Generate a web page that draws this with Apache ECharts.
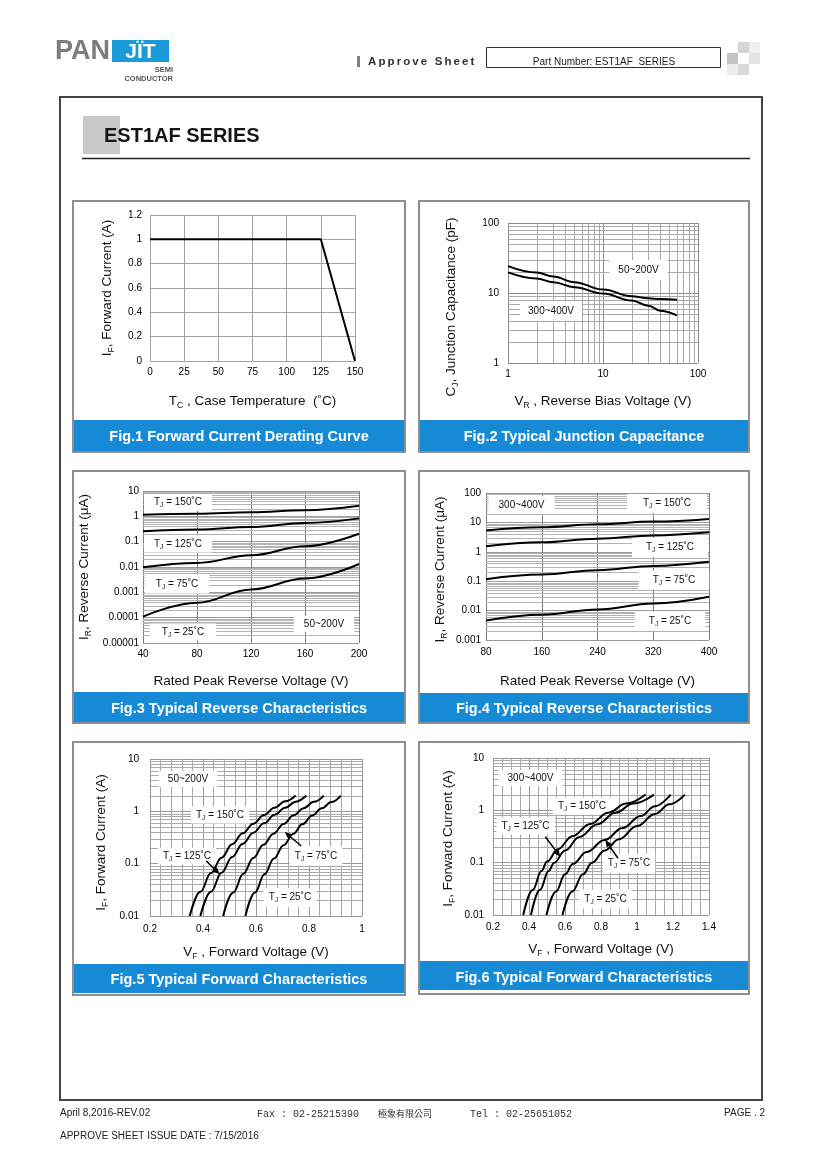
<!DOCTYPE html>
<html>
<head>
<meta charset="utf-8">
<script src="https://cdn.jsdelivr.net/npm/echarts@6/dist/echarts.min.js"></script>
<style>
html,body{margin:0;padding:0;background:#ffffff;}
#chart{width:820px;height:1160px;}
</style>
</head>
<body>
<div id="chart"></div>
<script>
// ================= DATA =================
// Fig.1 Forward Current Derating Curve
const fig1CaseTemp = [0, 125, 150];
const fig1Current = [1, 1, 0];
const fig1XTicks = ['0', '25', '50', '75', '100', '125', '150'];
const fig1YTicks = ['0', '0.2', '0.4', '0.6', '0.8', '1', '1.2'];

// Fig.2 Typical Junction Capacitance
const fig2Voltage = [1, 2, 3, 5, 10, 20, 30, 40, 60];
const fig2Cap50to200 = [24.2, 19.6, 17.2, 14.3, 11.2, 9.0, 8.4, 8.2, 8.0];
const fig2Cap300to400 = [19.7, 16.1, 14.3, 12.1, 9.8, 7.8, 6.6, 5.6, 4.8];
const fig2XTicks = ['1', '10', '100'];
const fig2YTicks = ['1', '10', '100'];

// Fig.3 Typical Reverse Characteristics (50~200V)
const fig3Voltage = [40, 80, 120, 160, 200];
const fig3Ir150 = [1.15, 1.27, 1.44, 1.73, 2.6];
const fig3Ir125 = [0.26, 0.30, 0.38, 0.55, 0.83];
const fig3Ir75 = [0.0098, 0.0145, 0.029, 0.066, 0.205];
const fig3Ir25 = [0.00011, 0.00039, 0.0013, 0.0035, 0.0131];
const fig3XTicks = ['40', '80', '120', '160', '200'];
const fig3YTicks = ['0.00001', '0.0001', '0.001', '0.01', '0.1', '1', '10'];

// Fig.4 Typical Reverse Characteristics (300~400V)
const fig4Voltage = [80, 160, 240, 320, 400];
const fig4Ir150 = [5.3, 6.8, 8.6, 10.7, 13.1];
const fig4Ir125 = [1.55, 2.1, 2.8, 3.6, 4.6];
const fig4Ir75 = [0.117, 0.168, 0.238, 0.33, 0.457];
const fig4Ir25 = [0.0046, 0.0072, 0.011, 0.0175, 0.0295];
const fig4XTicks = ['80', '160', '240', '320', '400'];
const fig4YTicks = ['0.001', '0.01', '0.1', '1', '10', '100'];

// Fig.5 Typical Forward Characteristics (50~200V)
const fig5Vf150 = [0.35, 0.39, 0.43, 0.47, 0.51, 0.55, 0.59, 0.63, 0.67, 0.71, 0.75];
const fig5If150 = [0.01, 0.029, 0.066, 0.13, 0.235, 0.38, 0.58, 0.85, 1.17, 1.55, 2.0];
const fig5Vf125 = [0.39, 0.43, 0.47, 0.51, 0.55, 0.59, 0.63, 0.67, 0.71, 0.75, 0.79];
const fig5If125 = [0.01, 0.029, 0.067, 0.134, 0.24, 0.39, 0.59, 0.86, 1.17, 1.53, 2.0];
const fig5Vf75 = [0.476, 0.514, 0.552, 0.59, 0.628, 0.666, 0.704, 0.742, 0.78, 0.818, 0.856];
const fig5If75 = [0.01, 0.028, 0.064, 0.128, 0.23, 0.375, 0.575, 0.84, 1.15, 1.52, 2.0];
const fig5Vf25 = [0.56, 0.596, 0.632, 0.668, 0.704, 0.74, 0.776, 0.812, 0.848, 0.884, 0.92];
const fig5If25 = [0.01, 0.028, 0.063, 0.125, 0.225, 0.37, 0.57, 0.83, 1.14, 1.5, 2.0];
const fig5XTicks = ['0.2', '0.4', '0.6', '0.8', '1'];
const fig5YTicks = ['0.01', '0.1', '1', '10'];

// Fig.6 Typical Forward Characteristics (300~400V)
const fig6Vf150 = [0.368, 0.42, 0.47, 0.50, 0.56, 0.64, 0.74, 0.84, 0.94, 1.048];
const fig6If150 = [0.01, 0.03, 0.07, 0.105, 0.18, 0.32, 0.55, 0.9, 1.35, 2.0];
const fig6Vf125 = [0.411, 0.46, 0.51, 0.54, 0.60, 0.68, 0.78, 0.88, 0.98, 1.094];
const fig6If125 = [0.01, 0.03, 0.07, 0.1, 0.17, 0.31, 0.54, 0.9, 1.35, 2.0];
const fig6Vf75 = [0.497, 0.55, 0.60, 0.645, 0.72, 0.82, 0.92, 1.02, 1.10, 1.187];
const fig6If75 = [0.01, 0.028, 0.06, 0.095, 0.16, 0.27, 0.46, 0.78, 1.2, 2.0];
const fig6Vf25 = [0.586, 0.64, 0.70, 0.75, 0.82, 0.90, 1.00, 1.10, 1.18, 1.266];
const fig6If25 = [0.01, 0.028, 0.06, 0.1, 0.17, 0.28, 0.5, 0.85, 1.3, 2.0];
const fig6XTicks = ['0.2', '0.4', '0.6', '0.8', '1', '1.2', '1.4'];
const fig6YTicks = ['0.01', '0.1', '1', '10'];

const tempLabels = ['150', '125', '75', '25'];

// ================= HELPERS =================
const FONT = '"Liberation Sans", Arial, Helvetica, sans-serif';
const MONO = '"Liberation Mono", "DejaVu Sans Mono", monospace';
const CJK = '"Noto Sans CJK TC", "Noto Sans CJK SC", sans-serif';

const zip = (a, b) => a.map((v, i) => [v, b[i]]);
const linFmt = ticks => (v, i) => (ticks[i] !== undefined ? ticks[i] : '');
const logFmt = (ticks, minExp) => v => {
  const k = Math.round(Math.log10(v)) - minExp;
  return ticks[k] !== undefined ? ticks[k] : '';
};
const logMinors = (minExp, maxExp) => {
  const out = [];
  for (let e = minExp; e < maxExp; e++) for (let m = 2; m <= 9; m++) out.push(m * Math.pow(10, e));
  return out;
};

const tickStyle = { fontFamily: FONT, fontSize: 10, color: '#000' };
function nameStyle(pad) {
  return {
    fontFamily: FONT, fontSize: 13.5, color: '#111', padding: pad || 0,
    rich: {
      m: { fontFamily: FONT, fontSize: 13.5, color: '#111', lineHeight: 18 },
      s: { fontFamily: FONT, fontSize: 8.5, color: '#111', lineHeight: 9, verticalAlign: 'bottom' }
    }
  };
}

function axis(o) {
  const a = {
    gridIndex: o.g, type: o.type, min: o.min, max: o.max, z: 0,
    axisLine: { show: false }, axisTick: { show: false },
    splitLine: { show: true, showMinLine: true, showMaxLine: true, lineStyle: { color: o.split || '#999', width: 1 } },
    axisLabel: Object.assign({}, tickStyle, { margin: o.margin, formatter: o.fmt }),
    name: o.name, nameLocation: 'middle', nameGap: o.gap, nameTextStyle: nameStyle(o.pad),
    nameMoveOverlap: false
  };
  if (o.type === 'log') a.logBase = 10;
  if (o.interval !== undefined) a.interval = o.interval;
  if (o.rotate) a.nameRotate = 90;
  if (o.minor) {
    a.minorTick = { show: false, splitNumber: o.minor };
    a.minorSplitLine = { show: true, lineStyle: { color: o.minorColor || '#aaa', width: 1 } };
  }
  return a;
}

function minorGrid(gi, xr, yr, xVals, yVals, color) {
  const data = [];
  xVals.forEach(v => data.push([v, yr[0], 1]));
  yVals.forEach(v => data.push([xr[0], v, 0]));
  return {
    type: 'custom', xAxisIndex: gi, yAxisIndex: gi, silent: true, z: 0, clip: false,
    encode: { x: 0, y: 1 }, data,
    renderItem(params, api) {
      const vert = api.value(2) === 1;
      let p1, p2;
      if (vert) { p1 = api.coord([api.value(0), yr[0]]); p2 = api.coord([api.value(0), yr[1]]); }
      else { p1 = api.coord([xr[0], api.value(1)]); p2 = api.coord([xr[1], api.value(1)]); }
      if (vert) { const x = Math.round(p1[0]) + 0.5; p1[0] = x; p2[0] = x; }
      else { const y = Math.round(p1[1]) + 0.5; p1[1] = y; p2[1] = y; }
      return { type: 'line', shape: { x1: p1[0], y1: p1[1], x2: p2[0], y2: p2[1] }, style: { stroke: color, lineWidth: 1 } };
    }
  };
}

function curve(gi, xs, ys, smooth) {
  return {
    type: 'line', xAxisIndex: gi, yAxisIndex: gi, data: zip(xs, ys),
    symbol: 'none', showSymbol: false, smooth: smooth ? 0.4 : false, smoothMonotone: 'x',
    lineStyle: { color: '#000', width: 2 }, z: 10, zlevel: 1, silent: true
  };
}

function boxLabel(text, x, y, pad) {
  return {
    type: 'text', x, y, z: 100, silent: true,
    style: {
      text, align: 'center', verticalAlign: 'middle',
      fontFamily: FONT, fontSize: 10, fill: '#111',
      backgroundColor: '#fff', padding: pad,
      rich: {
        t: { fontFamily: FONT, fontSize: 10, fill: '#111', lineHeight: 13 },
        s: { fontFamily: FONT, fontSize: 6.5, fill: '#111', lineHeight: 6, verticalAlign: 'bottom' }
      }
    }
  };
}
const tj = t => `{t|T}{s|J}{t| = ${t}˚C}`;

function arrow(x1, y1, x2, y2) {
  const ang = Math.atan2(y2 - y1, x2 - x1), L = 7, W = 3;
  const bx = x2 - L * Math.cos(ang), by = y2 - L * Math.sin(ang);
  const px = -Math.sin(ang) * W, py = Math.cos(ang) * W;
  return [
    { type: 'line', z: 100, silent: true, shape: { x1, y1, x2: bx, y2: by }, style: { stroke: '#000', lineWidth: 1.5 } },
    { type: 'polygon', z: 100, silent: true, shape: { points: [[x2, y2], [bx + px, by + py], [bx - px, by - py]] }, style: { fill: '#000' } }
  ];
}

function txt(text, x, y, o) {
  return {
    type: 'text', x, y, z: o.z || 10, silent: true,
    style: Object.assign({ text, fontFamily: FONT, fontSize: 10, fill: '#111', align: 'left', verticalAlign: 'middle' }, o.style || {})
  };
}

function spacedText(str, x, y, size, weight, spacing, fill) {
  const ctx = document.createElement('canvas').getContext('2d');
  ctx.font = `${weight} ${size}px ${FONT}`;
  const els = [];
  let cx = x;
  for (const ch of str) {
    if (ch !== ' ') els.push(txt(ch, cx, y, { style: { fontSize: size, fontWeight: weight, fill } }));
    cx += ctx.measureText(ch).width + spacing;
  }
  return els;
}

// ================= LAYOUT =================
const grids = [
  { left: 150, top: 215, width: 205, height: 146 },
  { left: 508, top: 223, width: 190, height: 140 },
  { left: 143, top: 491, width: 216, height: 152 },
  { left: 486, top: 493, width: 223, height: 147 },
  { left: 150, top: 759, width: 212, height: 157 },
  { left: 493, top: 758, width: 216, height: 157 }
].map(g => Object.assign({ outerBoundsMode: 'none', containLabel: false, show: false }, g));

const xAxes = [
  axis({ g: 0, type: 'value', min: 0, max: 150, interval: 25, split: '#a3a3a3', margin: 6, fmt: linFmt(fig1XTicks),
    name: '{m|T}{s|C}{m| , Case Temperature  (˚C)}', gap: 31 }),
  axis({ g: 1, type: 'log', min: 1, max: 100, split: '#8a8a8a', margin: 6, fmt: logFmt(fig2XTicks, 0),
    name: '{m|V}{s|R}{m| , Reverse Bias Voltage (V)}', gap: 29 }),
  axis({ g: 2, type: 'value', min: 40, max: 200, interval: 40, split: '#7c7c7c', margin: 6, fmt: linFmt(fig3XTicks),
    name: '{m|Rated Peak Reverse Voltage (V)}', gap: 29 }),
  axis({ g: 3, type: 'value', min: 80, max: 400, interval: 80, split: '#7c7c7c', margin: 7, fmt: linFmt(fig4XTicks),
    name: '{m|Rated Peak Reverse Voltage (V)}', gap: 32 }),
  axis({ g: 4, type: 'value', min: 0.2, max: 1, interval: 0.2, split: '#999', margin: 8, fmt: linFmt(fig5XTicks),
    minor: 5, minorColor: '#a8a8a8', name: '{m|V}{s|F}{m| , Forward Voltage (V)}', gap: 27 }),
  axis({ g: 5, type: 'value', min: 0.2, max: 1.4, interval: 0.2, split: '#999', margin: 7, fmt: linFmt(fig6XTicks),
    minor: 4, minorColor: '#a8a8a8', name: '{m|V}{s|F}{m| , Forward Voltage (V)}', gap: 25 })
];
const yAxes = [
  axis({ g: 0, type: 'value', min: 0, max: 1.2, interval: 0.2, split: '#a3a3a3', margin: 8, fmt: linFmt(fig1YTicks),
    name: '{m|I}{s|F}{m|, Forward Current (A)}', gap: 34, rotate: true }),
  axis({ g: 1, type: 'log', min: 1, max: 100, split: '#8a8a8a', margin: 9, fmt: logFmt(fig2YTicks, 0),
    name: '{m|C}{s|J}{m|, Junction Capacitance (pF)}', gap: 48, rotate: true, pad: [0, 28, 0, 0] }),
  axis({ g: 2, type: 'log', min: 0.00001, max: 10, split: '#9a9a9a', margin: 4, fmt: logFmt(fig3YTicks, -5),
    name: '{m|I}{s|R}{m|, Reverse Current (μA)}', gap: 50, rotate: true }),
  axis({ g: 3, type: 'log', min: 0.001, max: 100, split: '#9a9a9a', margin: 5, fmt: logFmt(fig4YTicks, -3),
    name: '{m|I}{s|R}{m|, Reverse Current (μA)}', gap: 37, rotate: true, pad: [0, 6, 0, 0] }),
  axis({ g: 4, type: 'log', min: 0.01, max: 10, split: '#999', margin: 11, fmt: logFmt(fig5YTicks, -2),
    name: '{m|I}{s|F}{m|, Forward Current (A)}', gap: 40, rotate: true, pad: [0, 10, 0, 0] }),
  axis({ g: 5, type: 'log', min: 0.01, max: 10, split: '#999', margin: 9, fmt: logFmt(fig6YTicks, -2),
    name: '{m|I}{s|F}{m|, Forward Current (A)}', gap: 36, rotate: true, pad: [0, 4, 0, 0] })
];

const series = [
  minorGrid(1, [1, 100], [1, 100], logMinors(0, 2), logMinors(0, 2), '#a9a9a9'),
  minorGrid(2, [40, 200], [0.00001, 10], [], logMinors(-5, 1), '#b3b3b3'),
  minorGrid(3, [80, 400], [0.001, 100], [], logMinors(-3, 2), '#b3b3b3'),
  minorGrid(4, [0.2, 1], [0.01, 10], [], logMinors(-2, 1), '#a8a8a8'),
  minorGrid(5, [0.2, 1.4], [0.01, 10], [], logMinors(-2, 1), '#a8a8a8'),
  curve(0, fig1CaseTemp, fig1Current, false),
  curve(1, fig2Voltage, fig2Cap50to200, true),
  curve(1, fig2Voltage, fig2Cap300to400, true),
  curve(2, fig3Voltage, fig3Ir150, true),
  curve(2, fig3Voltage, fig3Ir125, true),
  curve(2, fig3Voltage, fig3Ir75, true),
  curve(2, fig3Voltage, fig3Ir25, true),
  curve(3, fig4Voltage, fig4Ir150, true),
  curve(3, fig4Voltage, fig4Ir125, true),
  curve(3, fig4Voltage, fig4Ir75, true),
  curve(3, fig4Voltage, fig4Ir25, true),
  curve(4, fig5Vf150, fig5If150, true),
  curve(4, fig5Vf125, fig5If125, true),
  curve(4, fig5Vf75, fig5If75, true),
  curve(4, fig5Vf25, fig5If25, true),
  curve(5, fig6Vf150, fig6If150, true),
  curve(5, fig6Vf125, fig6If125, true),
  curve(5, fig6Vf75, fig6If75, true),
  curve(5, fig6Vf25, fig6If25, true)
];

// ================= PAGE DECORATION =================
const BLUE = '#168ad4';
const panels = [
  { x: 73, y: 201, w: 332, h: 251, capY: 420, capH: 31, cy: 437, caption: 'Fig.1 Forward Current Derating Curve' },
  { x: 419, y: 201, w: 330, h: 251, capY: 420, capH: 31, cy: 437, caption: 'Fig.2 Typical Junction Capacitance' },
  { x: 73, y: 471, w: 332, h: 252, capY: 692, capH: 30, cy: 709, caption: 'Fig.3 Typical Reverse Characteristics' },
  { x: 419, y: 471, w: 330, h: 252, capY: 693, capH: 29, cy: 709, caption: 'Fig.4 Typical Reverse Characteristics' },
  { x: 73, y: 742, w: 332, h: 253, capY: 964, capH: 29, cy: 980, caption: 'Fig.5 Typical Forward Characteristics' },
  { x: 419, y: 742, w: 330, h: 252, capY: 961, capH: 29, cy: 978, caption: 'Fig.6 Typical Forward Characteristics' }
];

const g = [];
// header logo
g.push(txt('PAN', 55, 52, { style: { fontSize: 27, fontWeight: 'bold', fill: '#7d7d7d' } }));
g.push({ type: 'rect', z: 5, silent: true, shape: { x: 112, y: 40, width: 57, height: 22 }, style: { fill: '#1a9ad8' } });
g.push(txt('JÏT', 140.5, 52, { z: 6, style: { fontSize: 21, fontWeight: 'bold', fill: '#fff', align: 'center' } }));
g.push(txt('SEMI', 173, 70, { style: { fontSize: 7.5, fontWeight: 'bold', fill: '#555', align: 'right' } }));
g.push(txt('CONDUCTOR', 173, 78.5, { style: { fontSize: 7.5, fontWeight: 'bold', fill: '#555', align: 'right' } }));
// approve sheet
g.push({ type: 'rect', silent: true, shape: { x: 357, y: 56, width: 3, height: 11 }, style: { fill: '#808080' } });
spacedText('Approve Sheet', 368, 61.5, 11.5, 'bold', 2.1, '#333').forEach(e => g.push(e));
g.push({ type: 'rect', silent: true, shape: { x: 486.5, y: 47.5, width: 234, height: 20 }, style: { fill: 'none', stroke: '#333', lineWidth: 1 } });
g.push(txt('Part Number: EST1AF  SERIES', 604, 62, { style: { fontSize: 10, fill: '#222', align: 'center' } }));
// checker squares
[[738, 42, '#d6d6d6'], [727, 53, '#c4c4c4'], [749, 53, '#e4e4e4'], [738, 64, '#dadada'], [749, 42, '#efefef'], [727, 64, '#ececec']]
  .forEach(s => g.push({ type: 'rect', silent: true, shape: { x: s[0], y: s[1], width: 11, height: 11 }, style: { fill: s[2] } }));
// main frame
g.push({ type: 'rect', silent: true, shape: { x: 60, y: 97, width: 702, height: 1003 }, style: { fill: 'none', stroke: '#444', lineWidth: 2 } });
g.push({ type: 'rect', silent: true, shape: { x: 83, y: 116, width: 37, height: 38 }, style: { fill: '#c9c9c9' } });
g.push(txt('EST1AF SERIES', 104, 136, { z: 11, style: { fontSize: 20, fontWeight: 'bold', fill: '#151515' } }));
g.push({ type: 'line', silent: true, shape: { x1: 82, y1: 158.5, x2: 750, y2: 158.5 }, style: { stroke: '#222', lineWidth: 1.5 } });
// panels
panels.forEach(p => {
  g.push({ type: 'rect', silent: true, z: 1, shape: { x: p.x, y: p.y, width: p.w, height: p.h }, style: { fill: 'none', stroke: '#8f8f8f', lineWidth: 2 } });
  g.push({ type: 'rect', silent: true, z: 2, shape: { x: p.x + 1, y: p.capY, width: p.w - 2, height: p.capH }, style: { fill: BLUE } });
  g.push(txt(p.caption, p.x + p.w / 2, p.cy, { z: 3, style: { fontSize: 14.5, fontWeight: 'bold', fill: '#fff', align: 'center' } }));
});
// footer
g.push(txt('April 8,2016-REV.02', 60, 1113, { style: { fontSize: 10, fill: '#222' } }));
g.push(txt('Fax : 02-25215390', 257, 1114, { style: { fontFamily: MONO, fontSize: 10, fill: '#333' } }));
g.push(txt('極象有限公司', 378, 1114, { style: { fontFamily: CJK, fontSize: 9, fill: '#333' } }));
g.push(txt('Tel : 02-25651052', 470, 1114, { style: { fontFamily: MONO, fontSize: 10, fill: '#333' } }));
g.push(txt('PAGE . 2', 765, 1113, { style: { fontSize: 10, fill: '#222', align: 'right' } }));
g.push(txt('APPROVE SHEET ISSUE DATE : 7/15/2016', 60, 1136, { style: { fontSize: 10, fill: '#222' } }));

// ================= ANNOTATIONS =================
// Fig.2
g.push(boxLabel('50~200V', 638.5, 270, [5, 9]));
g.push(boxLabel('300~400V', 551, 311, [5, 8]));
// Fig.3
g.push(boxLabel(tj(tempLabels[0]), 178, 502.5, [2, 10]));
g.push(boxLabel(tj(tempLabels[1]), 178, 544, [2, 10]));
g.push(boxLabel(tj(tempLabels[2]), 177, 584, [3, 11]));
g.push(boxLabel(tj(tempLabels[3]), 183, 632, [2, 12]));
g.push(boxLabel('50~200V', 324, 624, [3, 10]));
// Fig.4
g.push(boxLabel('300~400V', 521.5, 505, [4, 10]));
g.push(boxLabel(tj(tempLabels[0]), 667, 503.5, [3, 16]));
g.push(boxLabel(tj(tempLabels[1]), 670, 547.5, [3, 14]));
g.push(boxLabel(tj(tempLabels[2]), 674, 580, [3, 14]));
g.push(boxLabel(tj(tempLabels[3]), 670, 621, [3, 14]));
// Fig.5
g.push(boxLabel('50~200V', 188, 779, [3, 9]));
g.push(boxLabel(tj(tempLabels[0]), 220, 815, [2, 5]));
g.push(boxLabel(tj(tempLabels[1]), 187, 856, [2, 5]));
g.push(boxLabel(tj(tempLabels[2]), 316, 856, [3, 5]));
g.push(boxLabel(tj(tempLabels[3]), 290, 897.5, [3, 5]));
arrow(206.3, 861, 219.7, 874.3).forEach(e => g.push(e));
arrow(301.3, 846, 284.7, 832).forEach(e => g.push(e));
// Fig.6
g.push(boxLabel('300~400V', 530.5, 778, [3, 9]));
g.push(boxLabel(tj(tempLabels[0]), 582, 806, [2, 5]));
g.push(boxLabel(tj(tempLabels[1]), 525.5, 826, [2, 5]));
g.push(boxLabel(tj(tempLabels[2]), 629, 863.5, [3, 5]));
g.push(boxLabel(tj(tempLabels[3]), 605.5, 899, [3, 5]));
arrow(545.3, 836.7, 560.3, 856.7).forEach(e => g.push(e));
arrow(618, 858.3, 605.3, 840).forEach(e => g.push(e));

// ================= CHART =================
const chart = echarts.init(document.getElementById('chart'), null, { renderer: 'canvas', width: 820, height: 1160 });
chart.setOption({
  backgroundColor: '#ffffff',
  animation: false,
  textStyle: { fontFamily: FONT },
  grid: grids,
  xAxis: xAxes,
  yAxis: yAxes,
  series,
  graphic: { elements: g }
});
</script>
</body>
</html>
